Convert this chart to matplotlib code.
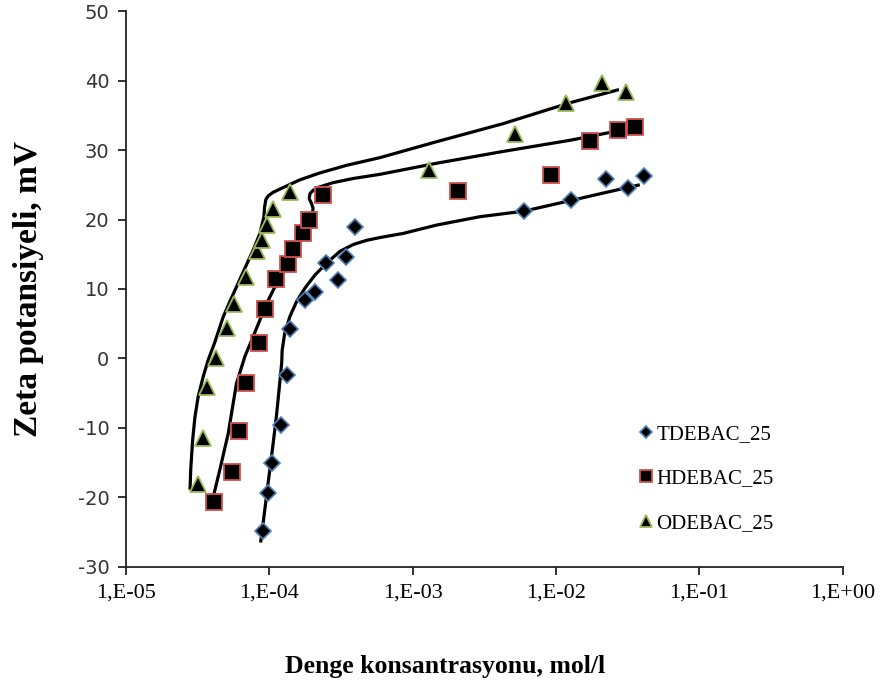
import matplotlib
matplotlib.use("Agg")
import matplotlib.pyplot as plt

# ---- data ----
t_x = [9.07e-5, 9.8e-5, 1.05e-4, 1.2e-4, 1.32e-4, 1.39e-4, 1.77e-4, 2.08e-4, 2.5e-4, 3.0e-4, 3.42e-4, 3.95e-4,
       5.96e-3, 1.28e-2, 2.25e-2, 3.18e-2, 4.1e-2]
t_y = [-24.9, -19.4, -15.1, -9.6, -2.4, 4.2, 8.4, 9.6, 13.7, 11.3, 14.6, 18.9,
       21.2, 22.8, 25.9, 24.6, 26.2]

h_x = [4.1e-5, 5.46e-5, 6.1e-5, 6.9e-5, 8.5e-5, 9.4e-5, 1.11e-4, 1.34e-4, 1.47e-4, 1.72e-4, 1.9e-4, 2.38e-4,
       2.08e-3, 9.3e-3, 1.72e-2, 2.71e-2, 3.58e-2]
h_y = [-20.6, -16.3, -10.4, -3.6, 2.2, 7.1, 11.4, 13.6, 15.8, 18.0, 20.0, 23.5,
       24.1, 26.4, 31.3, 32.9, 33.3]

o_x = [3.19e-5, 3.43e-5, 3.69e-5, 4.24e-5, 5.09e-5, 5.66e-5, 6.87e-5, 8.24e-5, 8.83e-5, 9.57e-5, 1.06e-4, 1.39e-4,
       1.30e-3, 5.2e-3, 1.17e-2, 2.11e-2, 3.07e-2]
o_y = [-18.1, -11.5, -4.1, 0.0, 4.4, 7.9, 11.7, 15.4, 17.1, 19.2, 21.5, 23.9,
       27.1, 32.3, 36.7, 39.6, 38.4]

# fitted curves
tc_x = [8.7e-5, 9.17e-5, 9.8e-5, 1.05e-4, 1.12e-4, 1.17e-4, 1.22e-4, 1.23e-4, 1.28e-4, 1.39e-4, 1.55e-4,
        1.77e-4, 2.08e-4, 2.51e-4, 3.1e-4, 3.85e-4, 4.77e-4, 5.9e-4, 8.6e-4, 1.47e-3, 2.94e-3, 5.96e-3,
        1.25e-2, 2.13e-2, 3.84e-2]
tc_y = [-26.5, -22.8, -18.0, -13.2, -8.4, -4.5, -0.7, 1.2, 3.6, 6.0, 8.2,
        10.1, 12.0, 13.7, 15.4, 16.4, 17.0, 17.4, 18.0, 19.2, 20.4, 21.2,
        22.7, 23.8, 25.0]

hc_x = [3.85e-5, 4.18e-5, 4.52e-5, 5.17e-5, 5.9e-5, 6.76e-5, 7.7e-5, 9.57e-5, 1.19e-4, 1.47e-4, 1.77e-4,
        1.92e-4, 2.0e-4, 2.02e-4, 1.97e-4, 1.9e-4, 1.92e-4, 2.02e-4, 2.25e-4, 2.78e-4, 3.84e-4, 5.9e-4,
        1.47e-3, 4.28e-3, 1.25e-2, 2.94e-2, 3.38e-2]
hc_y = [-21.8, -18.9, -16.0, -10.8, -3.6, 0.3, 3.1, 7.9, 11.8, 15.6, 18.7,
        20.2, 20.9, 21.6, 22.3, 23.0, 23.7, 24.2, 24.7, 25.3, 25.9, 26.5,
        28.1, 29.8, 31.4, 32.9, 33.3]

oc_x = [2.8e-5, 2.83e-5, 2.92e-5, 3.03e-5, 3.19e-5, 3.46e-5, 3.75e-5, 4.18e-5, 4.77e-5, 5.31e-5, 5.9e-5,
        6.76e-5, 7.72e-5, 8.6e-5, 9.17e-5, 9.27e-5, 9.47e-5, 9.82e-5, 1.06e-4, 1.25e-4, 1.63e-4, 2.25e-4,
        3.46e-4, 5.9e-4, 1.47e-3, 4.28e-3, 1.25e-2, 2.75e-2]
oc_y = [-18.9, -16.0, -11.7, -8.4, -5.5, -2.6, -0.2, 2.4, 6.0, 8.2, 10.3,
        13.0, 15.6, 18.0, 20.4, 21.8, 22.9, 23.4, 23.9, 24.6, 25.7, 26.7,
        27.8, 28.9, 31.2, 33.8, 36.8, 38.7]

x_ticks = [1e-5, 1e-4, 1e-3, 1e-2, 1e-1, 1e0]
x_tick_labels = ["1,E-05", "1,E-04", "1,E-03", "1,E-02", "1,E-01", "1,E+00"]
y_ticks = [-30, -20, -10, 0, 10, 20, 30, 40, 50]
labels = ["TDEBAC_25", "HDEBAC_25", "ODEBAC_25"]

fig = plt.figure(figsize=(8.87, 6.93), dpi=100)
ax = fig.add_axes([0.142, 0.182, 0.808, 0.802])

for cx, cy in [(tc_x, tc_y), (hc_x, hc_y), (oc_x, oc_y)]:
    ax.plot(cx, cy, color="black", lw=2.3, solid_capstyle="butt", solid_joinstyle="round", zorder=2)

ax.plot(t_x, t_y, ls="none", marker="D", ms=8.5, mfc="black", mec="#4f81bd", mew=1.2, label=labels[0], zorder=3)
ax.plot(h_x, h_y, ls="none", marker="s", ms=12, mfc="black", mec="#d0504d", mew=1.3, label=labels[1], zorder=3)
ax.plot(o_x, o_y, ls="none", marker="^", ms=12, mfc="black", mec="#9bbb59", mew=1.3, label=labels[2], zorder=3)

ax.set_xscale("log")
ax.set_xlim(1e-5, 1e0)
ax.set_ylim(-30, 50)
ax.set_xticks(x_ticks)
ax.set_xticklabels(x_tick_labels, fontfamily="Liberation Serif", fontsize=16)
ax.xaxis.set_minor_locator(matplotlib.ticker.NullLocator())
ax.set_yticks(y_ticks)
ax.set_yticklabels([str(v) for v in y_ticks], fontfamily="DejaVu Sans", fontsize=14, color="#333333")

for s in ["top", "right"]:
    ax.spines[s].set_visible(False)
for s in ["left", "bottom"]:
    ax.spines[s].set_linewidth(1.3)
    ax.spines[s].set_color("#222222")
ax.tick_params(direction="out", length=6, width=1.3, color="#222222", pad=6)

ax.set_xlabel("Denge konsantrasyonu, mol/l", fontfamily="Liberation Serif", fontweight="bold",
              fontsize=18.5)
ax.xaxis.set_label_coords(0.445, -0.158)
ax.set_ylabel("Zeta potansiyeli, mV", fontfamily="Liberation Serif", fontweight="bold",
              fontsize=24)
ax.yaxis.set_label_coords(-0.115, 0.5)

leg = ax.legend(loc="lower left", bbox_to_anchor=(0.691, 0.027), frameon=False,
                prop={"family": "Liberation Serif", "size": 15},
                handlelength=0.6, handletextpad=0.2, labelspacing=1.2, markerscale=0.75)

fig.savefig("out.png", dpi=100)
